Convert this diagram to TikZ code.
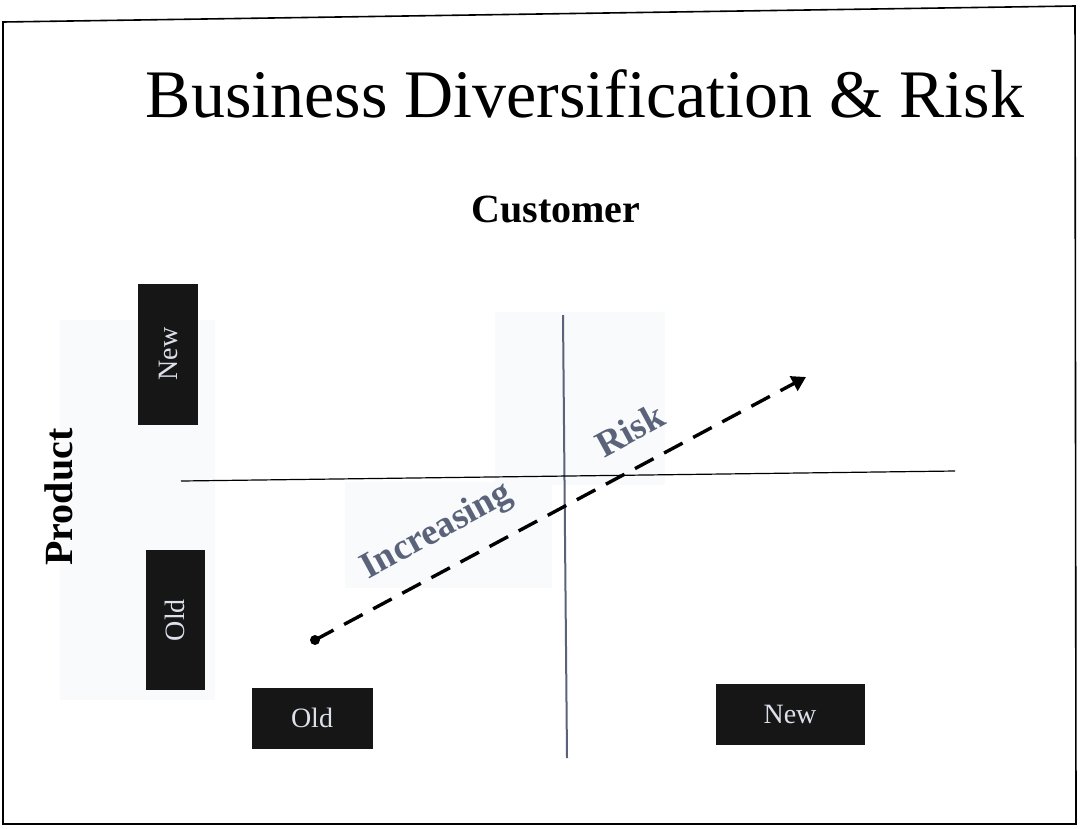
\documentclass[tikz,border=0pt]{standalone}
\usepackage{fontspec}
\setmainfont{Liberation Serif}
\usetikzlibrary{arrows.meta}
\definecolor{slate}{HTML}{5A6379}
\definecolor{boxtxt}{HTML}{DCE0EA}
\definecolor{boxbg}{HTML}{161616}
\definecolor{faint}{HTML}{F9FAFC}
\tikzset{
  labelbox/.style={fill=boxbg, text=boxtxt, inner sep=0pt, font=\fontsize{28}{30}\selectfont},
  risktext/.style={text=slate, font=\bfseries\fontsize{37}{39}\selectfont, rotate=28.5},
  headtext/.style={font=\bfseries\fontsize{40}{42}\selectfont},
}
\begin{document}
\begin{tikzpicture}[x=1pt,y=-1pt]
\useasboundingbox (0,0) rectangle (1081,828);
% faint background patches
\fill[faint] (60,320) rectangle (215,700);
\fill[faint] (495,312) rectangle (665,485);
\fill[faint] (345,482) rectangle (552,588);
% frame
\draw[line width=1.6pt] (3,22) -- (1075,6) -- (1076,824) -- (3,824) -- cycle;
% title
\node[anchor=base] (title) at (585,117) {\fontsize{68}{72}\selectfont Business Diversification \& Risk};
\node[headtext, anchor=base] (cust) at (556,222) {Customer};
\node[headtext, rotate=90, anchor=base] (prod) at (72,497) {Product};
% label boxes
\node[labelbox, minimum width=60pt, minimum height=141pt] (pnew) at (168,354) {};
\node[rotate=90, text=boxtxt, font=\fontsize{28}{30}\selectfont] at (pnew.center) {New};
\node[labelbox, minimum width=59pt, minimum height=140pt] (pold) at (175,620) {};
\node[rotate=90, text=boxtxt, font=\fontsize{28}{30}\selectfont] at (pold.center) {Old};
\node[labelbox, minimum width=121pt, minimum height=61pt] (cold) at (312,718) {Old};
\node[labelbox, minimum width=149pt, minimum height=61pt] (cnew) at (790,714) {New};
% axes
\coordinate (vtop) at (563,315);
\coordinate (vbot) at (567,758);
\coordinate (hl) at (181,481);
\coordinate (hr) at (955,471);
\draw[slate, line width=2pt] (vtop) -- (vbot);
\draw[black, line width=1.2pt] (hl) -- (hr);
% risk arrow
\coordinate (astart) at (315,640);
\coordinate (aend) at (806,377);
\fill (astart) circle (5pt);
\draw[line width=3.4pt, dash pattern=on 21pt off 12pt, -{Triangle[length=14pt,width=16pt]}] (astart) -- (aend);
\node[risktext] (inc) at (437,532) {Increasing};
\node[risktext] (risk) at (630,430) {Risk};
\end{tikzpicture}
\end{document}
